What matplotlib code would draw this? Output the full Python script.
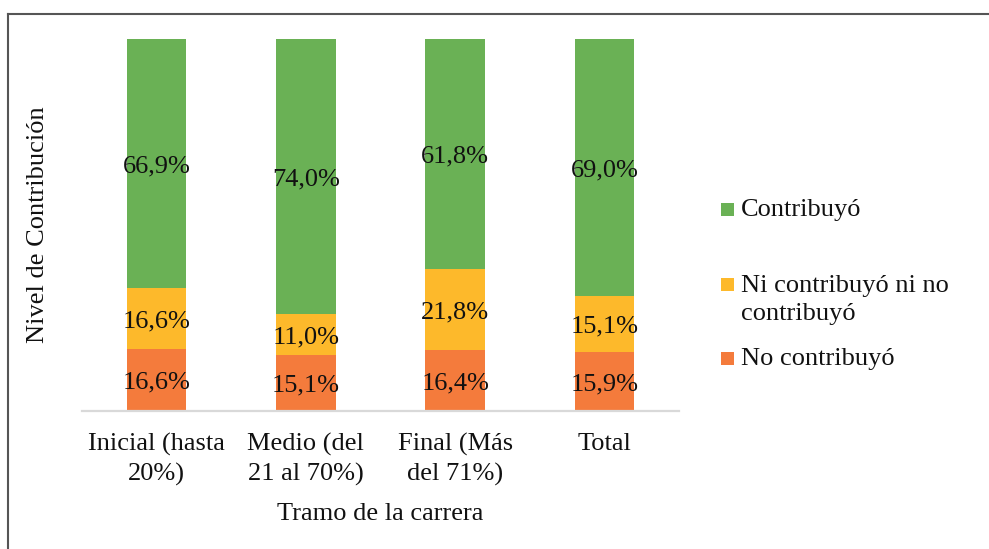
import matplotlib
matplotlib.use("Agg")
import matplotlib.pyplot as plt
from matplotlib.patches import Rectangle
from matplotlib.lines import Line2D

plt.rcParams['font.family'] = ['Liberation Serif', 'DejaVu Serif']

categories = ["Inicial (hasta\n20%)", "Medio (del\n21 al 70%)", "Final (Más\ndel 71%)", "Total"]
no_contribuyo = [16.6, 15.1, 16.4, 15.9]
ni_ni = [16.6, 11.0, 21.8, 15.1]
contribuyo = [66.9, 74.0, 61.8, 69.0]
series_names = ["No contribuyó", "Ni contribuyó ni no\ncontribuyó", "Contribuyó"]
colors = ["#F47B3C", "#FDB92B", "#6AB155"]

W, H = 989, 549
fig = plt.figure(figsize=(W / 100, H / 100), dpi=100)
ax = fig.add_axes([82 / W, 1 - 411 / H, (679 - 82) / W, (411 - 39) / H])

series = [no_contribuyo, ni_ni, contribuyo]
totals = [sum(v) for v in zip(*series)]
x = list(range(len(categories)))
bottoms = [0.0] * len(categories)
for vals, col in zip(series, colors):
    fr = [v / t for v, t in zip(vals, totals)]
    ax.bar(x, fr, width=0.4, bottom=bottoms, color=col, linewidth=0)
    for xi, b, f, v in zip(x, bottoms, fr, vals):
        ax.annotate(f"{v:.1f}%".replace(".", ","), (xi, b + f / 2), xytext=(0, -2),
                    textcoords="offset points", ha="center", va="center",
                    fontsize=19, color="#111111")
    bottoms = [b + f for b, f in zip(bottoms, fr)]

ax.set_xlim(-0.5, len(categories) - 0.5)
ax.set_ylim(0, 1)
ax.set_yticks([])
ax.set_xticks(x)
ax.set_xticklabels(categories, fontsize=19, color="#111111", linespacing=1.38)
ax.tick_params(axis="x", length=0, pad=16)
for s in ["top", "right", "left"]:
    ax.spines[s].set_visible(False)
ax.spines["bottom"].set_color("#d9d9d9")
ax.spines["bottom"].set_linewidth(1.6)
ax.set_xlabel("Tramo de la carrera", fontsize=19, color="#111111", labelpad=12)
fig.text(38 / W, 1 - 225 / H, "Nivel de Contribución", rotation=90, ha="center", va="center",
         fontsize=19, color="#111111")

# legend (manual)
leg_items = [("Contribuyó", colors[2], 210), (series_names[1], colors[1], 300), ("No contribuyó", colors[0], 359)]
for label, col, yc in leg_items:
    nlines = label.count("\n") + 1
    py = yc - (nlines - 1) * 15
    fig.patches.append(Rectangle((721 / W, 1 - (py + 6) / H), 13 / W, 13 / H,
                                 transform=fig.transFigure, color=col, linewidth=0))
    fig.text(741 / W, 1 - yc / H, label, ha="left", va="center", fontsize=19,
             color="#111111", linespacing=1.38)

# outer border
fig.add_artist(Line2D([8 / W, 8 / W], [0, 1 - 14 / H], transform=fig.transFigure,
                      color="#555555", linewidth=1.5))
fig.add_artist(Line2D([8 / W, 1], [1 - 14 / H, 1 - 14 / H], transform=fig.transFigure,
                      color="#555555", linewidth=1.5))

fig.savefig("out.png", dpi=100)
